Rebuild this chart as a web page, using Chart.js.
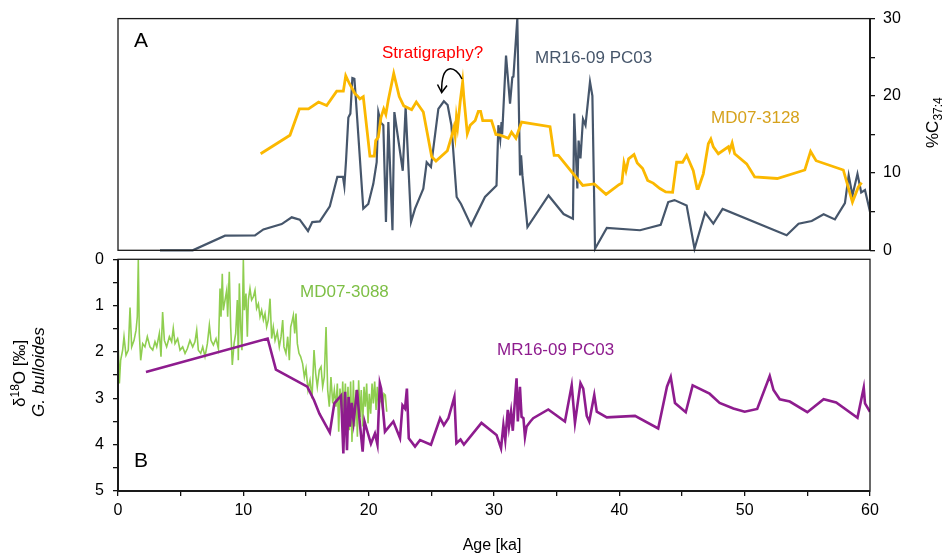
<!DOCTYPE html>
<html><head><meta charset="utf-8">
<script src="https://cdn.jsdelivr.net/npm/chart.js@4/dist/chart.umd.min.js"></script>
<style>html,body{margin:0;padding:0;background:#fff;}canvas{display:block;}</style>
</head><body>
<canvas id="c" width="945" height="557"></canvas>
<script>
// ---------- tick values ----------
const ageTicks = [0,5,10,15,20,25,30,35,40,45,50,55,60];
const c37Ticks = [0,5,10,15,20,25,30];
const d18OTicks = [0,0.5,1,1.5,2,2.5,3,3.5,4,4.5,5];

// ---------- panel A : %C37:4 ([age ka, %]) ----------
const md073128_C37 = [[11.38,12.5],[13.72,14.9],[14.47,18.3],[15.2,18.3],[16.0,19.2],[16.65,18.75],[17.45,20.6],[17.98,20.6],[18.17,22.6],[18.46,21.6],[18.9,20.3],[19.1,20],[19.3,19.6],[19.57,19.9],[20.1,12.2],[20.45,12.2],[20.56,14.2],[20.77,14.65],[20.98,17.2],[21.2,18.3],[21.37,17.6],[21.56,19.4],[22.0,22.9],[22.44,19.9],[22.8,18.7],[23.43,18.2],[23.8,19.2],[24.36,17.9],[25.03,12.1],[25.37,11.55],[26.28,12.9],[26.6,14.65],[26.8,15.9],[26.9,14.8],[27.0,17.2],[27.1,16.0],[27.3,19.2],[27.5,21.8],[27.6,19.7],[27.87,15.1],[28.1,16.2],[28.5,16.8],[28.75,18.0],[28.93,18.0],[29.1,16.8],[29.8,16.8],[30.15,15.0],[30.5,14.9],[31.14,14.5],[31.4,15.3],[31.75,14.5],[32.2,16.6],[34.47,16.0],[34.8,12.3],[35.13,12.3],[37.08,8.4],[38.0,8.6],[38.94,7.24],[39.97,8.5],[40.2,8.7],[40.37,11.3],[40.53,10.3],[40.74,11.85],[41.17,12.4],[41.43,11.3],[41.86,10.6],[42.26,9.05],[42.7,8.7],[43.24,8.0],[43.7,7.55],[44.25,7.5],[44.57,11.4],[45.05,11.4],[45.37,12.3],[45.9,10.3],[46.2,8.0],[46.3,8.0],[46.7,9.9],[47.1,13.8],[47.3,14.4],[47.5,13.4],[47.9,12.5],[48.7,13.4],[48.8,12.9],[49.0,13.9],[49.2,12.5],[50.16,11.2],[50.8,9.5],[52.6,9.3],[54.8,10.4],[55.26,12.8],[55.7,11.6],[57.87,10.4],[58.6,6.25],[58.9,7.5],[59.07,8.2],[59.33,8.75]];

const mr1609_C37 = [[3.35,0],[5.96,0],[8.54,1.9],[10.93,1.94],[11.6,2.7],[13.06,3.4],[13.86,4.27],[14.5,3.96],[15.16,2.5],[15.5,3.66],[16.1,3.75],[16.9,5.7],[17.5,9.5],[17.95,9.5],[18.06,8.3],[18.19,11.5],[18.38,17.2],[18.54,17.7],[18.7,22.3],[18.86,22.2],[18.97,19.8],[19.57,5.4],[19.97,6.0],[20.37,8.6],[20.64,11.4],[20.77,17.9],[20.98,16.5],[21.17,16.2],[21.38,3.66],[21.57,16.6],[21.9,2.6],[22.05,17.9],[22.72,10.3],[22.95,18.5],[23.38,3.66],[23.7,5.4],[24.23,7.46],[24.36,7.97],[24.63,11.4],[24.97,10.8],[25.56,18.3],[26.0,19.3],[26.3,18.8],[26.6,16.2],[27.02,6.9],[27.37,6.0],[28.17,3.23],[29.28,6.9],[30.2,8.4],[30.35,16.2],[30.5,14.4],[30.6,16.6],[30.65,15],[30.96,25.2],[31.28,19],[31.46,22.4],[31.55,22.5],[31.86,30],[32.08,9.7],[32.16,12.3],[32.27,9.7],[32.67,3.0],[34.35,7.1],[35.55,4.7],[36.3,4.1],[36.4,17.7],[36.65,8.0],[36.75,14.2],[36.9,11.9],[37.1,17],[37.3,16.2],[37.66,21.8],[37.85,20],[38.06,0.2],[39.0,2.9],[41.65,2.6],[43.3,3.3],[43.9,6.25],[44.4,6.5],[45.37,5.8],[46.0,0.2],[46.84,4.87],[47.5,3.45],[48.24,5.35],[53.35,1.94],[54.3,3.45],[55.35,3.8],[56.3,4.66],[57.2,4.0],[58.0,6.1],[58.3,9.7],[58.6,7.1],[59.0,9.9],[59.3,7.5],[59.6,7.8],[60.0,5.0]];

// ---------- panel B : d18O G. bulloides ([age ka, permil]) ----------
const md073088_d18O = [[0.03,1.96],[0.11,2.68],[0.21,2.18],[0.37,1.96],[0.48,1.67],[0.64,2.07],[0.82,1.96],[0.96,1.04],[1.09,1.89],[1.28,1.75],[1.44,1.53],[1.54,1.24],[1.62,0.01],[1.70,1.60],[1.81,2.18],[1.97,1.82],[2.15,1.89],[2.34,1.67],[2.55,1.89],[2.77,1.96],[2.95,1.78],[3.09,1.89],[3.30,1.60],[3.43,2.10],[3.56,1.14],[3.70,1.75],[3.88,1.89],[4.10,1.67],[4.28,1.78],[4.41,1.49],[4.55,1.82],[4.76,1.71],[4.95,1.96],[5.16,1.89],[5.35,2.03],[5.53,1.93],[5.74,1.75],[5.96,1.89],[6.14,1.78],[6.28,1.53],[6.41,1.96],[6.60,2.03],[6.76,1.89],[6.94,2.10],[7.13,1.82],[7.29,1.42],[7.42,1.75],[7.61,1.85],[7.82,1.71],[8.01,1.93],[8.14,0.63],[8.22,1.24],[8.32,0.31],[8.40,1.10],[8.54,0.88],[8.67,0.67],[8.75,1.24],[8.88,0.27],[8.99,1.46],[9.12,2.28],[9.26,1.82],[9.39,1.60],[9.52,0.88],[9.60,2.18],[9.68,0.52],[9.79,1.46],[9.89,1.96],[10.0,0.01],[10.08,1.10],[10.21,0.74],[10.32,1.67],[10.40,0.88],[10.53,0.63],[10.66,0.88],[10.80,0.81],[10.93,0.67],[11.06,1.06],[11.20,0.96],[11.33,1.24],[11.46,1.10],[11.60,1.31],[11.73,1.17],[11.86,1.46],[11.99,1.31],[12.13,0.85],[12.26,1.71],[12.39,1.46],[12.53,1.75],[12.71,1.57],[12.87,1.89],[13.01,1.67],[13.14,1.31],[13.24,1.89],[13.40,2.03],[13.54,1.67],[13.67,2.18],[13.78,1.46],[13.88,1.35],[13.99,1.21],[14.10,1.60],[14.20,1.17],[14.31,1.82],[14.44,2.03],[14.57,2.10],[14.73,2.25],[14.87,2.54],[15.0,2.36],[15.16,2.82],[15.32,2.61],[15.48,3.0],[15.64,1.96],[15.77,2.46],[15.90,2.75],[16.06,2.39],[16.20,2.32],[16.33,2.75],[16.46,2.54],[16.60,1.46],[16.73,2.82],[16.86,3.18],[16.99,2.54],[17.13,3.11],[17.26,2.82],[17.39,3.18],[17.50,2.68],[17.61,3.72],[17.71,2.79],[17.85,3.25],[17.93,2.64],[18.03,3.47],[18.14,2.68],[18.24,3.54],[18.35,2.75],[18.46,3.69],[18.56,2.64],[18.67,3.94],[18.78,2.61],[18.88,3.61],[18.99,2.82],[19.10,3.83],[19.20,2.61],[19.31,3.40],[19.41,2.82],[19.52,3.61],[19.63,2.75],[19.73,3.18],[19.84,2.68],[19.95,3.54],[20.05,2.90],[20.16,3.33],[20.27,2.68],[20.37,3.11],[20.48,2.64],[20.59,3.25],[20.69,2.75],[20.80,3.18],[20.96,2.97],[21.12,3.25],[21.22,2.90],[21.33,2.93],[21.44,3.29]];

const mr1609_d18O = [[2.23,2.43],[11.94,1.71],[12.6,2.38],[15.1,2.75],[15.64,3.04],[16.07,3.33],[16.9,3.74],[17.26,3.11],[17.8,2.94],[17.98,4.19],[18.12,2.86],[18.27,4.12],[18.4,2.97],[18.5,3.61],[18.65,3.1],[18.8,3.5],[19.07,2.82],[19.3,3.55],[19.52,4.15],[19.67,3.5],[19.88,3.7],[20.18,3.98],[20.5,3.76],[20.7,4.0],[20.89,2.68],[21.0,2.8],[21.3,3.72],[21.97,3.5],[22.5,3.86],[22.7,3.15],[22.9,3.22],[23.05,2.79],[23.2,3.86],[23.7,4.04],[24.1,3.9],[24.97,4.0],[25.7,3.43],[26.0,3.58],[26.36,3.43],[26.84,2.97],[27.0,3.97],[27.33,3.89],[27.6,4.0],[29.0,3.53],[30.2,3.79],[30.56,4.08],[30.75,3.58],[30.9,3.9],[31.1,3.25],[31.2,3.6],[31.36,3.29],[31.5,3.7],[31.6,3.3],[31.8,2.57],[31.9,3.5],[32.07,2.75],[32.2,3.4],[32.35,3.43],[32.47,3.83],[32.6,3.61],[32.9,3.5],[33.13,3.43],[34.33,3.24],[35.66,3.5],[36.2,2.72],[36.46,3.53],[36.9,2.67],[37.12,2.79],[37.4,3.38],[37.6,3.5],[38.0,2.93],[38.2,3.29],[39.0,3.41],[41.25,3.38],[43.1,3.65],[43.8,2.75],[44.1,2.54],[44.44,3.1],[45.3,3.3],[45.85,2.72],[47.2,2.9],[48.0,3.1],[49.1,3.22],[50.0,3.29],[51.0,3.23],[52.0,2.52],[52.3,2.82],[52.8,3.02],[53.6,3.07],[55.0,3.3],[56.3,3.02],[57.3,3.09],[59.0,3.42],[59.5,2.77],[59.6,3.11],[60.0,3.29]];

// ---------- layout / style ----------
const FONT = "'Liberation Sans', Arial, Helvetica, sans-serif";
const W = 945, H = 557;
const AREA = {left: 118, right: 870, top: 18, bottom: 491};
const PANEL_A_BOTTOM = 250;   // pixel of %C37:4 = 0
const PANEL_B_TOP = 259;      // pixel of d18O = 0
const COL = {gray:'#46566b', yellow:'#fbb800', gold:'#d6a21c', green:'#8fce50', greenLbl:'#7dbf45', purple:'#8e1c8e'};

const aPx = (PANEL_A_BOTTOM - AREA.top) / 30;
const yAmin = 30 - (AREA.bottom - AREA.top) / aPx;
const bPx = (AREA.bottom - PANEL_B_TOP) / 5;
const yBmin = -(PANEL_B_TOP - AREA.top) / bPx;

const tickFont = {family: FONT, size: 16};
const gridCfg = {drawOnChartArea:false, drawTicks:true, tickLength:5, color:'#111', lineWidth:1.3};

function richText(ctx, parts, x, y) {
  // parts: [text, size, dy, style]
  let cx = x;
  for (const [t, size, dy, style] of parts) {
    ctx.font = (style||'') + ' ' + size + 'px ' + FONT;
    ctx.fillText(t, cx, y + dy);
    cx += ctx.measureText(t).width;
  }
  return cx - x;
}
function richWidth(ctx, parts) {
  let w = 0;
  for (const [t, size, dy, style] of parts) { ctx.font = (style||'') + ' ' + size + 'px ' + FONT; w += ctx.measureText(t).width; }
  return w;
}

const decor = {
  id: 'decor',
  afterDraw(chart) {
    const {ctx, chartArea: a, scales} = chart;
    const yA = scales.yA, yB = scales.yB;
    const aTop = yA.getPixelForValue(30), aBot = yA.getPixelForValue(0);
    const bTop = yB.getPixelForValue(0), bBot = yB.getPixelForValue(5);
    ctx.save();
    ctx.strokeStyle = '#1a1a1a';
    ctx.lineWidth = 1.3;
    ctx.strokeRect(a.left, aTop, a.right - a.left, aBot - aTop);
    ctx.strokeRect(a.left, bTop, a.right - a.left, bBot - bTop);
    ctx.lineWidth = 2;
    ctx.beginPath();
    ctx.moveTo(a.left, bTop); ctx.lineTo(a.left, bBot); ctx.lineTo(a.right, bBot);
    ctx.moveTo(a.right, aTop); ctx.lineTo(a.right, aBot);
    ctx.stroke();

    ctx.textBaseline = 'alphabetic';
    ctx.textAlign = 'left';
    // panel letters
    ctx.fillStyle = '#000';
    ctx.font = '21px ' + FONT;
    ctx.fillText('A', 134, 47);
    ctx.fillText('B', 134, 467);
    // annotations
    ctx.font = '17px ' + FONT;
    ctx.fillStyle = '#ff0000';
    ctx.fillText('Stratigraphy?', 382, 58);
    ctx.fillStyle = COL.gray;
    ctx.fillText('MR16-09 PC03', 535, 63);
    ctx.fillStyle = COL.gold;
    ctx.fillText('MD07-3128', 711, 123);
    ctx.fillStyle = COL.greenLbl;
    ctx.fillText('MD07-3088', 300, 297);
    ctx.fillStyle = COL.purple;
    ctx.fillText('MR16-09 PC03', 497, 355);

    // curved arrow
    ctx.strokeStyle = '#000';
    ctx.lineWidth = 1.5;
    ctx.beginPath();
    ctx.moveTo(462, 79);
    ctx.bezierCurveTo(456, 66, 441, 61, 441.7, 92);
    ctx.stroke();
    ctx.beginPath();
    ctx.moveTo(437.5, 84.5); ctx.lineTo(441.7, 92.5); ctx.lineTo(447, 85.5);
    ctx.stroke();

    // x axis title
    ctx.fillStyle = '#000';
    ctx.font = '16px ' + FONT;
    ctx.textAlign = 'center';
    ctx.fillText('Age [ka]', (a.left + a.right) / 2 - 2, 550);
    ctx.textAlign = 'left';

    // right title %C37:4 (rotated)
    ctx.save();
    ctx.translate(938, 148);
    ctx.rotate(-Math.PI / 2);
    richText(ctx, [['%C', 17, 0], ['37:4', 12, 4]], 0, 0);
    ctx.restore();

    // left title
    ctx.save();
    ctx.translate(25, 407);
    ctx.rotate(-Math.PI / 2);
    richText(ctx, [['δ', 17, 0], ['18', 12, -6], ['O [‰]', 17, 0]], 0, 0);
    ctx.restore();
    ctx.save();
    ctx.translate(44, 417);
    ctx.rotate(-Math.PI / 2);
    richText(ctx, [['G. bulloides', 17, 0, 'italic']], 0, 0);
    ctx.restore();

    ctx.restore();
  }
};

new Chart(document.getElementById('c'), {
  type: 'line',
  data: {
    datasets: [
      {label: 'MD07-3128', data: md073128_C37, xAxisID: 'x', yAxisID: 'yA', borderColor: COL.yellow, borderWidth: 2.8, pointRadius: 0, fill: false, tension: 0},
      {label: 'MR16-09 PC03 C37:4', data: mr1609_C37, xAxisID: 'x', yAxisID: 'yA', borderColor: COL.gray, borderWidth: 2.2, pointRadius: 0, fill: false, tension: 0},
      {label: 'MR16-09 PC03 d18O', data: mr1609_d18O, xAxisID: 'x', yAxisID: 'yB', borderColor: COL.purple, borderWidth: 2.6, pointRadius: 0, fill: false, tension: 0},
      {label: 'MD07-3088', data: md073088_d18O, xAxisID: 'x', yAxisID: 'yB', borderColor: COL.green, borderWidth: 1.6, pointRadius: 0, fill: false, tension: 0}
    ]
  },
  options: {
    responsive: false,
    animation: false,
    devicePixelRatio: 1,
    layout: {padding: {top: AREA.top, left: 0, right: 0, bottom: 0}},
    plugins: {legend: {display: false}, tooltip: {enabled: false}, title: {display: false}},
    scales: {
      x: {
        type: 'linear', position: 'bottom', min: 0, max: 60,
        afterBuildTicks: s => { s.ticks = ageTicks.map(v => ({value: v})); },
        afterFit: s => { s.height = H - AREA.bottom; },
        ticks: {autoSkip: false, maxRotation: 0, padding: 5, color: '#000', font: tickFont,
                callback: v => (v % 10 === 0 ? String(v) : '')},
        grid: gridCfg, border: {display: false}
      },
      yA: {
        type: 'linear', position: 'right', min: yAmin, max: 30,
        afterBuildTicks: s => { s.ticks = c37Ticks.map(v => ({value: v})); },
        afterFit: s => { s.width = W - AREA.right; },
        ticks: {autoSkip: false, padding: 8, color: '#000', font: tickFont,
                callback: v => (v % 10 === 0 ? String(v) : '')},
        grid: gridCfg, border: {display: false}
      },
      yB: {
        type: 'linear', position: 'left', reverse: true, min: yBmin, max: 5,
        afterBuildTicks: s => { s.ticks = d18OTicks.map(v => ({value: v})); },
        afterFit: s => { s.width = AREA.left; },
        ticks: {autoSkip: false, padding: 9, color: '#000', font: tickFont,
                callback: v => (Number.isInteger(v) ? String(v) : '')},
        grid: gridCfg, border: {display: false}
      }
    }
  },
  plugins: [decor]
});
</script>
</body></html>
